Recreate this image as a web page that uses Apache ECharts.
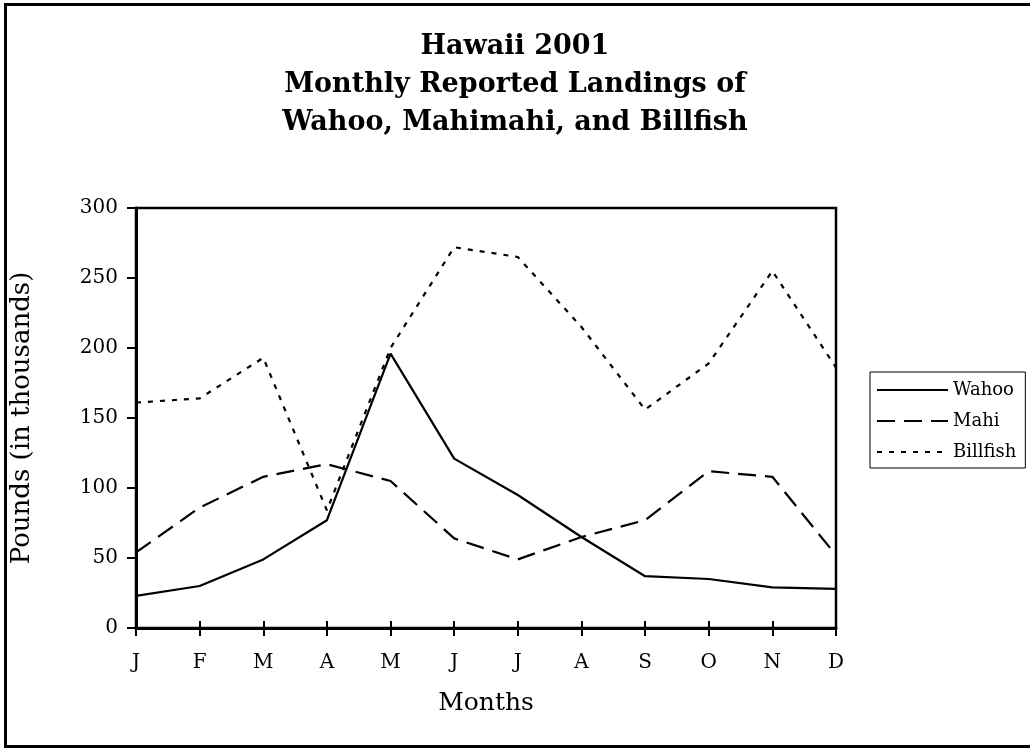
<!DOCTYPE html>
<html>
<head>
<meta charset="utf-8">
<script src="https://cdn.jsdelivr.net/npm/echarts@6/dist/echarts.min.js"></script>
<style>
  html, body { margin: 0; padding: 0; background: #fff; }
  #chart { width: 1030px; height: 748px; }
</style>
</head>
<body>
<div id="chart"></div>
<script>
const months = ['J', 'F', 'M', 'A', 'M', 'J', 'J', 'A', 'S', 'O', 'N', 'D'];
const wahoo = [23, 30, 49, 77, 196, 121, 95, 65, 37, 35, 29, 28];
const mahi = [54, 86, 108, 117, 105, 64, 49, 65, 77, 112, 108, 52];
const billfish = [161, 164, 193, 84, 200, 272, 265, 215, 156, 189, 255, 186];
const yTicks = [0, 50, 100, 150, 200, 250, 300];

const FONT = 'DejaVu Serif';
const chart = echarts.init(document.getElementById('chart'), null, { renderer: 'canvas' });

chart.setOption({
  backgroundColor: '#fff',
  animation: false,
  graphic: [{
    type: 'rect',
    shape: { x: 5.5, y: 4.5, width: 1100, height: 742 },
    style: { fill: 'none', stroke: '#000', lineWidth: 3 },
    silent: true
  }],
  title: {
    text: 'Hawaii 2001\nMonthly Reported Landings of\nWahoo, Mahimahi, and Billfish',
    left: 'center',
    top: 23,
    textStyle: { fontFamily: FONT, fontWeight: 'bold', fontSize: 27, lineHeight: 38, color: '#000', align: 'center' }
  },
  legend: {
    orient: 'vertical',
    left: 870,
    top: 372,
    padding: [9, 9, 7, 6],
    itemWidth: 71,
    itemHeight: 14,
    itemGap: 13,
    borderColor: '#000',
    borderWidth: 1,
    backgroundColor: '#fff',
    itemStyle: { opacity: 0, borderWidth: 0 },
    textStyle: { fontFamily: FONT, fontSize: 18, color: '#000' },
    data: ['Wahoo', 'Mahi', 'Billfish']
  },
  grid: {
    left: 136, right: 194, top: 208, bottom: 120,
    show: true, borderColor: '#000', borderWidth: 2.5, backgroundColor: 'transparent'
  },
  xAxis: [{
    type: 'category',
    data: months,
    boundaryGap: false,
    name: 'Months',
    nameLocation: 'middle',
    nameGap: 63,
    nameTextStyle: { fontFamily: FONT, fontSize: 25, color: '#000' },
    axisLine: { lineStyle: { color: '#000', width: 3 } },
    axisTick: { inside: false, length: 8, lineStyle: { color: '#000', width: 2 } },
    axisLabel: { fontFamily: FONT, fontSize: 20, color: '#000', margin: 25 },
    splitLine: { show: false }
  }, {
    type: 'category',
    data: months,
    boundaryGap: false,
    position: 'bottom',
    axisLine: { show: false },
    axisTick: { inside: true, length: 7, lineStyle: { color: '#000', width: 2 } },
    axisLabel: { show: false },
    splitLine: { show: false }
  }],
  yAxis: {
    type: 'value',
    min: yTicks[0],
    max: yTicks[yTicks.length - 1],
    interval: 50,
    name: 'Pounds (in thousands)',
    nameLocation: 'middle',
    nameRotate: 90,
    nameGap: 101,
    nameTextStyle: { fontFamily: FONT, fontSize: 26, color: '#000' },
    axisLine: { show: true, lineStyle: { color: '#000', width: 3 } },
    axisTick: { show: true, inside: false, length: 9, lineStyle: { color: '#000', width: 2 } },
    axisLabel: { fontFamily: FONT, fontSize: 20, color: '#000', margin: 18 },
    splitLine: { show: false }
  },
  series: [{
    name: 'Wahoo',
    type: 'line',
    data: wahoo,
    symbol: 'none',
    lineStyle: { color: '#000', width: 2.2, type: 'solid' },
    itemStyle: { color: '#000' }
  }, {
    name: 'Mahi',
    type: 'line',
    data: mahi,
    symbol: 'none',
    lineStyle: { color: '#000', width: 2.2, type: [18, 9] },
    itemStyle: { color: '#000' }
  }, {
    name: 'Billfish',
    type: 'line',
    data: billfish,
    symbol: 'none',
    lineStyle: { color: '#000', width: 2.2, type: [5, 7] },
    itemStyle: { color: '#000' }
  }]
});
</script>
</body>
</html>
